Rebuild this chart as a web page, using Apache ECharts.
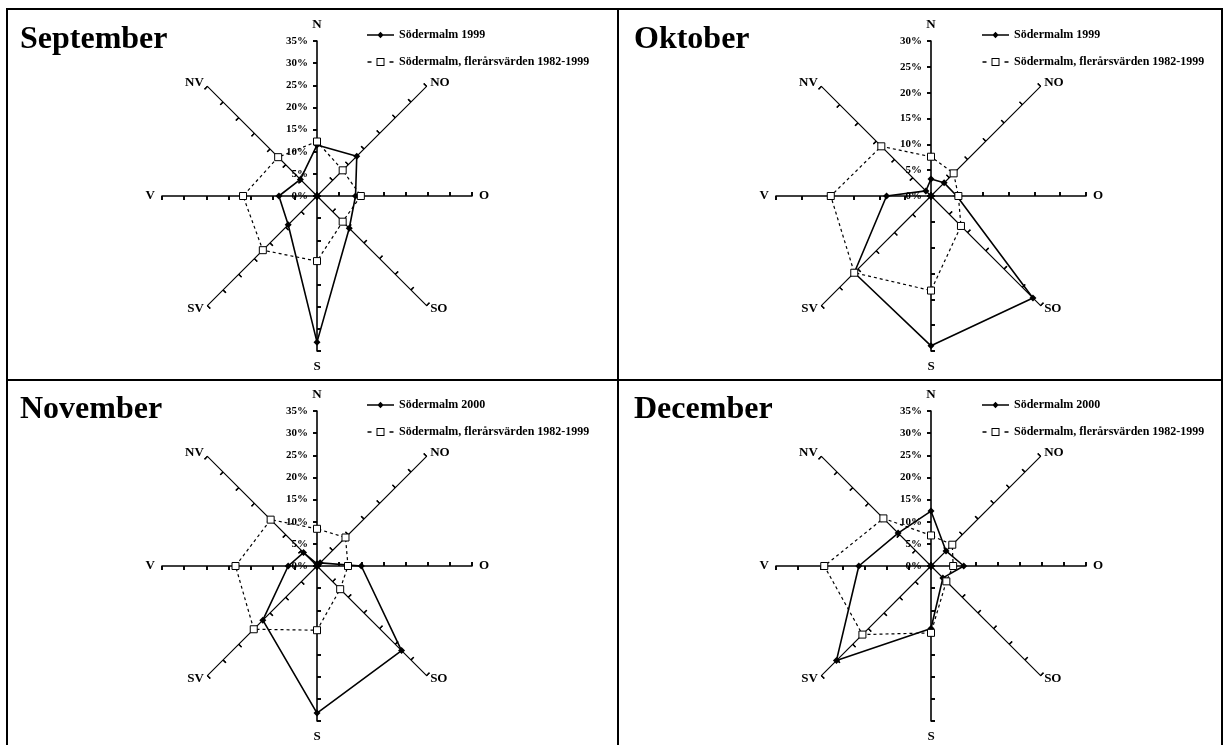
<!DOCTYPE html>
<html>
<head>
<meta charset="utf-8">
<script src="https://cdn.jsdelivr.net/npm/echarts@6/dist/echarts.min.js"></script>
<style>
  html, body { margin: 0; padding: 0; background: #fff; }
  #chart { width: 1225px; height: 745px; }
</style>
</head>
<body>
<div id="chart"></div>
<script>
// vindriktningar i kompassordning
var directions = ['N', 'NO', 'O', 'SO', 'S', 'SV', 'V', 'NV'];
var months = ['September', 'Oktober', 'November', 'December'];
var yearNames = ['Södermalm 1999', 'Södermalm 1999', 'Södermalm 2000', 'Södermalm 2000'];
var normalName = 'Södermalm, flerårsvärden 1982-1999';
var axisMax = [35, 30, 35, 35];

// andel (%) per riktning, samma ordning som directions
var sep1999 = [11.5, 12.7, 8.7, 10.3, 33.0, 9.2, 8.6, 5.3];
var sepNormal = [12.3, 8.2, 9.9, 8.2, 14.7, 17.3, 16.7, 12.4];
var okt1999 = [3.3, 3.6, 5.0, 27.9, 29.0, 21.0, 8.6, 1.4];
var oktNormal = [7.6, 6.2, 5.3, 8.2, 18.3, 21.0, 19.4, 13.6];
var nov2000 = [0.5, 1.0, 10.0, 27.0, 33.2, 17.3, 6.5, 4.3];
var novNormal = [8.4, 9.1, 7.0, 7.4, 14.5, 20.2, 18.4, 14.8];
var dec2000 = [12.4, 4.8, 7.4, 3.8, 14.1, 30.2, 16.3, 10.5];
var decNormal = [6.9, 6.8, 5.0, 4.9, 15.1, 21.9, 24.1, 15.2];

var yearValues = [sep1999, okt1999, nov2000, dec2000];
var normalValues = [sepNormal, oktNormal, novNormal, decNormal];

// echarts lägger radarns axlar moturs från toppen
var radarOrder = ['N', 'NV', 'V', 'SV', 'S', 'SO', 'O', 'NO'];
function toRadar(values) {
  return radarOrder.map(function (d) { return values[directions.indexOf(d)]; });
}

var font = 'Liberation Serif';
var panels = [
  { cx: 317, cy: 196, titleX: 20, titleY: 24, legendX: 367, legendY: 29 },
  { cx: 931, cy: 196, titleX: 634, titleY: 24, legendX: 982, legendY: 29 },
  { cx: 317, cy: 566, titleX: 20, titleY: 394, legendX: 367, legendY: 399 },
  { cx: 931, cy: 566, titleX: 634, titleY: 394, legendX: 982, legendY: 399 }
];
var nameGaps = { N: 10, S: 9, O: 7, V: 7 };

var solidIcon = 'path://M0,4.3H30V5.7H0Z M15,1.5L18.5,5L15,8.5L11.5,5Z';
var dashIcon = 'path://M0,4.2H4V5.8H0Z M9,1H17V9H9Z M10,2V8H16V2Z M22,4.2H26V5.8H22Z';

// mirror = andra halvan av kryssade tickmarkeringar
function makeIndicators(max, mirror) {
  return radarOrder.map(function (d) {
    var cardinal = d.length === 1;
    return {
      name: d,
      min: 0,
      max: max,
      nameGap: cardinal ? nameGaps[d] : 5,
      axisLine: { show: !mirror, lineStyle: { color: '#000', width: cardinal ? 1.6 : 1.1 } },
      axisTick: {
        show: true,
        inside: mirror,
        length: 4,
        lineStyle: { color: '#000', width: cardinal ? 1.6 : 1.3 }
      },
      axisLabel: { show: d === 'N' && !mirror }
    };
  });
}

var radars = [];
var series = [];
var titles = [];
var legends = [];

panels.forEach(function (p, i) {
  [false, true].forEach(function (mirror) {
    radars.push({
      center: [p.cx, p.cy],
      radius: 155,
      startAngle: 90,
      splitNumber: axisMax[i] / 5,
      indicator: makeIndicators(axisMax[i], mirror),
      axisName: { show: !mirror, color: '#000', fontFamily: font, fontWeight: 'bold', fontSize: 13 },
      axisLabel: { formatter: '{value}%', color: '#000', fontFamily: font, fontWeight: 'bold', fontSize: 11, margin: 9 },
      splitLine: { show: false },
      splitArea: { show: false },
      silent: true
    });
  });

  series.push({
    type: 'radar',
    radarIndex: 2 * i,
    symbol: 'diamond',
    symbolSize: 7,
    lineStyle: { color: '#000', width: 1.6 },
    itemStyle: { color: '#000' },
    data: [{ name: yearNames[i], value: toRadar(yearValues[i]) }],
    z: 3
  });
  series.push({
    type: 'radar',
    radarIndex: 2 * i,
    symbol: 'rect',
    symbolSize: 7,
    lineStyle: { color: '#000', width: 1.2, type: [3, 3] },
    itemStyle: { color: '#fff', borderColor: '#000', borderWidth: 1 },
    data: [{ name: normalName, value: toRadar(normalValues[i]) }],
    z: 4
  });

  titles.push({
    text: months[i],
    left: p.titleX,
    top: p.titleY,
    padding: 0,
    textStyle: { fontFamily: font, fontWeight: 'bold', fontSize: 32, color: '#000' }
  });

  legends.push({
    left: p.legendX,
    top: p.legendY,
    orient: 'vertical',
    padding: 0,
    itemGap: 15,
    itemWidth: 27,
    itemHeight: 8,
    selectedMode: false,
    itemStyle: { color: '#000', borderWidth: 0 },
    textStyle: { color: '#000', fontFamily: font, fontWeight: 'bold', fontSize: 12 },
    data: [
      { name: yearNames[i], icon: solidIcon },
      { name: normalName, icon: dashIcon }
    ]
  });
});

var myChart = echarts.init(document.getElementById('chart'));
myChart.setOption({
  backgroundColor: '#fff',
  animation: false,
  title: titles,
  legend: legends,
  radar: radars,
  series: series,
  graphic: [
    { type: 'rect', shape: { x: 7, y: 9, width: 1215, height: 760 }, style: { fill: 'none', stroke: '#000', lineWidth: 2 } },
    { type: 'line', shape: { x1: 618, y1: 9, x2: 618, y2: 745 }, style: { stroke: '#000', lineWidth: 2 } },
    { type: 'line', shape: { x1: 7, y1: 380, x2: 1222, y2: 380 }, style: { stroke: '#000', lineWidth: 2 } }
  ]
});
</script>
</body>
</html>
